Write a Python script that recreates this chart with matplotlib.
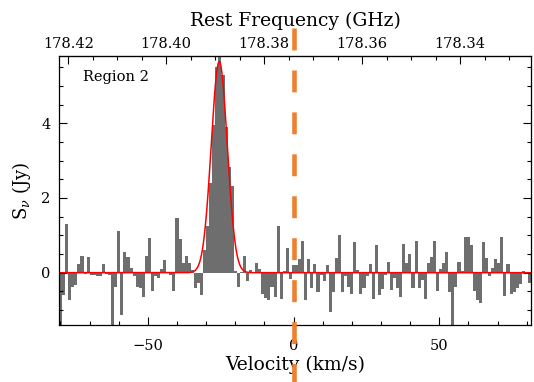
import numpy as np
import matplotlib
matplotlib.use("Agg")
import matplotlib.pyplot as plt
from matplotlib.ticker import MultipleLocator, FixedLocator, FormatStrFormatter

# spectrum channels (Jy), left to right
flux_a = [-1.5, -0.6, 1.3, -0.73, -0.37, -0.33, 0.22, 0.46, -0.03, 0.43, -0.05,
          -0.05, -0.08, -0.1, 0.22, -0.03, -0.06, -1.5, -0.37, 1.12, -1.12, 0.55,
          0.42, 0.13, -0.1]
flux_b = [-0.37, -0.4, -0.65, 0.46, 0.93, -0.49, -0.08, -0.15, 0.1, 0.35, 0.0,
          -0.05, -0.49, 1.47, 0.9, 0.27, 0.46, 0.25, 0.08, -0.4, -0.28, -0.6]
flux_peak = [0.62, 1.24, 2.4, 3.96, 5.5, 5.95, 5.3, 3.9, 2.84, 2.33]
flux_c = [0.05, -0.38, 0.02, 0.45, -0.23, 0.08, 0.0, 0.27, 0.09, -0.58, -0.67,
          -0.74, -0.38, -0.64, 1.24, -0.7, 0.04, 0.67, -0.18, 0.2]
flux_d = [0.2, 0.36, 0.84, -0.73, 0.38, -0.42, 0.22, -0.52, -0.05, -0.22, 0.2,
          -1.05, -0.52, 0.4, 1.0, -0.52, -0.1, -0.37, -0.58, 0.81, 0.06, -0.58,
          -0.4, -0.1, 0.22]
flux_e = [-0.7, 0.75, -0.6, -0.44, -0.07, 0.29, -0.46, -0.15, -0.4, -0.65, 0.77,
          0.27, 0.49, -0.42, 0.86, -0.42, -0.19, -0.71, 0.27, 0.43, 0.86, -0.49,
          0.1, 0.27, 0.55, -0.52]
flux_f = [-1.45, -0.37, 0.28, 0.05, 0.95, 0.95, 0.75, -0.49, -0.73, -0.8, 0.83,
          0.4, -0.1, 0.13, 0.36, 0.27, 0.95, -0.62, 0.22, -0.56, -0.52, -0.4,
          -0.31, 0.04, 0.02, -0.28]

flux = np.array(flux_a + flux_b + flux_peak + flux_c + flux_d + flux_e + flux_f)

v_start, v_end = -80.5, 81.5          # km/s, first/last channel edge
dv = (v_end - v_start) / len(flux)
vel = v_start + dv * (np.arange(len(flux)) + 0.5)

# gaussian fit
g_amp, g_cen, g_sig = 5.65, -25.5, 2.75

f0 = 178.374  # GHz at v = 0
c_kms = 299792.458
freq_ticks = [178.42, 178.40, 178.38, 178.36, 178.34]

plt.rcParams["font.family"] = "DejaVu Serif"
plt.rcParams["mathtext.fontset"] = "dejavuserif"

fig = plt.figure(figsize=(5.34, 3.82), dpi=100)
ax = fig.add_axes([0.1105, 0.1492, 0.8839, 0.7042])

ax.bar(vel, flux, width=dv, color="#6e6e6e", linewidth=0, zorder=1)

vfine = np.linspace(v_start, v_end, 1500)
ax.plot(vfine, g_amp * np.exp(-0.5 * ((vfine - g_cen) / g_sig) ** 2),
        color="red", lw=1.1, zorder=2)

lw_dash = 3.3
ax.plot([0, 0], [6.56, -3.3], color="#ef8030", lw=lw_dash, clip_on=False,
        dashes=(15.8 / lw_dash, 14.4 / lw_dash), solid_capstyle="butt",
        dash_capstyle="butt", zorder=5)

ax.set_xlim(v_start, v_end)
ax.set_ylim(-1.4, 5.8)

ax.xaxis.set_major_locator(MultipleLocator(50))
ax.xaxis.set_minor_locator(MultipleLocator(10))
ax.yaxis.set_major_locator(MultipleLocator(2))
ax.yaxis.set_minor_locator(MultipleLocator(0.5))
ax.tick_params(which="both", direction="in", right=True, top=False,
               labelsize=10.5, width=0.8)
ax.tick_params(which="major", length=5.5)
ax.tick_params(which="minor", length=3)
ax.tick_params(axis="x", which="major", pad=10)
ax.tick_params(axis="y", which="major", pad=6)
for s in ax.spines.values():
    s.set_linewidth(0.9)

ax.set_xlabel("Velocity (km/s)", fontsize=13.5, labelpad=2)
ax.set_ylabel(r"S$_\nu$ (Jy)", fontsize=13, labelpad=6)

top = ax.secondary_xaxis("top", functions=(lambda v: f0 * (1 - v / c_kms),
                                           lambda f: c_kms * (1 - f / f0)))
top.xaxis.set_major_locator(FixedLocator(freq_ticks))
top.xaxis.set_minor_locator(MultipleLocator(0.005))
top.xaxis.set_major_formatter(FormatStrFormatter("%.2f"))
top.tick_params(which="both", direction="in", labelsize=10.5, width=0.8)
top.tick_params(which="major", length=5.5)
top.tick_params(which="minor", length=3)
top.set_xlabel("Rest Frequency (GHz)", fontsize=13.5, labelpad=8)

ax.text(0.051, 0.922, "Region 2", transform=ax.transAxes, fontsize=10.5,
        va="center", ha="left")

fig.savefig("out.png", dpi=100)
